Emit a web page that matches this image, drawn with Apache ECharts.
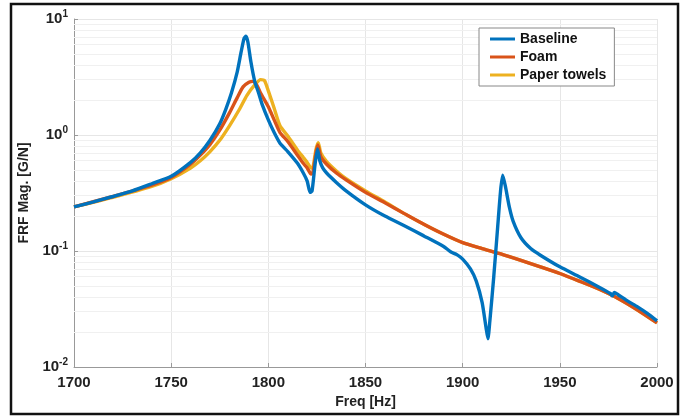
<!DOCTYPE html>
<html>
<head>
<meta charset="utf-8">
<script src="https://cdn.jsdelivr.net/npm/echarts@6/dist/echarts.min.js"></script>
<style>html,body{margin:0;padding:0;background:#fff}#c{width:692px;height:416px}</style>
</head>
<body>
<div id="c"></div>
<script>
var seriesNames = ['Baseline', 'Foam', 'Paper towels'];
var seriesColors = ['#0072BD', '#D95319', '#EDB120'];

var baselineFreq = [1700,1710,1720,1730,1740,1750,1760,1765,1770,1775,1778,1781,1784,1786,1787.5,1788.5,1789.5,1791,1793,1795,1797,1800,1803,1806,1810,1815,1818,1820,1821.5,1822.5,1824,1825.3,1826.5,1828,1830,1835,1840,1850,1860,1870,1880,1890,1894,1897,1900,1904,1907,1910,1912,1913,1914,1916,1918,1919.5,1920.6,1922,1924,1926,1930,1935,1940,1950,1960,1970,1976,1977,1978,1980,1985,1990,1995,2000];
var baselineMag = [0.24,0.265,0.295,0.33,0.38,0.44,0.58,0.7,0.9,1.25,1.65,2.3,3.5,5.2,6.8,7.1,6.3,4.3,2.9,2.3,1.8,1.35,1.05,0.85,0.72,0.57,0.47,0.4,0.32,0.33,0.55,0.76,0.6,0.52,0.47,0.39,0.33,0.25,0.2,0.165,0.135,0.11,0.098,0.093,0.085,0.07,0.055,0.036,0.022,0.0175,0.025,0.06,0.16,0.33,0.45,0.36,0.24,0.18,0.13,0.105,0.092,0.073,0.06,0.049,0.043,0.041,0.044,0.042,0.037,0.033,0.029,0.025];

var foamFreq = [1700,1720,1740,1750,1760,1765,1770,1775,1780,1784,1787,1790,1792,1794,1796,1800,1803,1806,1810,1815,1818,1820,1822,1823,1824.5,1825.5,1827,1830,1835,1840,1850,1860,1870,1880,1890,1900,1910,1920,1930,1940,1950,1960,1970,1980,1990,2000];
var foamMag = [0.24,0.295,0.37,0.43,0.56,0.67,0.83,1.1,1.55,2.1,2.6,2.85,2.9,2.7,2.3,1.75,1.35,1.05,0.88,0.67,0.57,0.52,0.46,0.48,0.7,0.82,0.65,0.56,0.47,0.41,0.32,0.26,0.21,0.17,0.14,0.118,0.105,0.094,0.083,0.073,0.064,0.055,0.047,0.039,0.031,0.024];

var paperFreq = [1700,1720,1740,1750,1760,1765,1770,1775,1780,1785,1789,1793,1796,1798,1800,1803,1806,1810,1815,1818,1820,1822,1823,1824.5,1825.7,1827,1830,1835,1840,1850,1860,1870,1880,1890,1900,1910,1920,1930,1940,1950,1960,1970,1980,1990,2000];
var paperMag = [0.24,0.29,0.36,0.42,0.52,0.6,0.72,0.9,1.2,1.65,2.2,2.7,3.0,2.95,2.4,1.7,1.2,0.98,0.74,0.64,0.58,0.52,0.53,0.75,0.86,0.7,0.59,0.49,0.42,0.33,0.265,0.21,0.17,0.14,0.118,0.105,0.094,0.083,0.073,0.064,0.055,0.047,0.039,0.031,0.024];

var xTicks = [1700, 1750, 1800, 1850, 1900, 1950, 2000];
var yDecades = [0.01, 0.1, 1, 10];
var yMinorLines = [0.02,0.03,0.04,0.05,0.06,0.07,0.08,0.09,0.2,0.3,0.4,0.5,0.6,0.7,0.8,0.9,2,3,4,5,6,7,8,9];

function pairs(f, m) { return f.map(function (v, i) { return [v, m[i]]; }); }
var allData = [pairs(baselineFreq, baselineMag), pairs(foamFreq, foamMag), pairs(paperFreq, paperMag)];

var lineSeries = seriesNames.map(function (n, i) {
  return {
    type: 'line', name: n, data: allData[i], showSymbol: false, symbol: 'none',
    smooth: 0.2,
    lineStyle: { width: 3.4, color: seriesColors[i] }, itemStyle: { color: seriesColors[i] },
    z: 10 - i, animation: false
  };
});
var series = [{
  type: 'line', name: '_minor', data: [], silent: true, z: 1,
  markLine: {
    silent: true, symbol: 'none', label: { show: false },
    lineStyle: { color: '#f0f0f0', type: 'solid', width: 1 },
    animation: false,
    data: yMinorLines.map(function (v) { return { yAxis: v }; })
  }
}, lineSeries[2], lineSeries[1], lineSeries[0]];

var chart = echarts.init(document.getElementById('c'), null, { renderer: 'canvas' });
chart.setOption({
  backgroundColor: '#fff',
  animation: false,
  graphic: [{
    type: 'rect', shape: { x: 11, y: 4, width: 667, height: 410 },
    style: { fill: 'none', stroke: '#111', lineWidth: 2.5 }, z: 100
  }],
  grid: { left: 74, top: 19, right: 35, bottom: 49 },
  legend: {
    data: seriesNames,
    z: 50,
    orient: 'vertical', left: 479, top: 28,
    backgroundColor: '#fff', borderColor: '#888', borderWidth: 1,
    padding: [4, 8, 4, 11], itemGap: 4,
    icon: 'rect', itemWidth: 25, itemHeight: 3,
    textStyle: { fontFamily: 'Liberation Sans', fontWeight: 'bold', fontSize: 14, color: '#111' }
  },
  xAxis: {
    type: 'value', min: 1700, max: 2000, interval: 50,
    name: 'Freq [Hz]', nameLocation: 'middle', nameGap: 27,
    nameTextStyle: { fontFamily: 'Liberation Sans', fontWeight: 'bold', fontSize: 14, color: '#222' },
    axisLine: { show: true, lineStyle: { color: '#999' } },
    axisTick: { show: true, inside: true, length: 4, lineStyle: { color: '#999' } },
    axisLabel: { fontFamily: 'Liberation Sans', fontWeight: 'bold', fontSize: 15, color: '#222', margin: 8,
      formatter: function (v) { return String(v); } },
    splitLine: { show: true, lineStyle: { color: '#e6e6e6' } }
  },
  yAxis: {
    type: 'log', logBase: 10, min: 0.01, max: 10,
    name: 'FRF Mag. [G/N]', nameLocation: 'middle', nameGap: 41,
    nameTextStyle: { fontFamily: 'Liberation Sans', fontWeight: 'bold', fontSize: 14, color: '#222' },
    axisLine: { show: true, lineStyle: { color: '#999' } },
    axisTick: { show: true, inside: true, length: 4, lineStyle: { color: '#999' } },
    axisLabel: {
      margin: 6,
      formatter: function (v) {
        var e = Math.round(Math.log10(v));
        return '{b|10}{s|' + e + '}';
      },
      rich: {
        b: { fontFamily: 'Liberation Sans', fontWeight: 'bold', fontSize: 15, color: '#222' },
        s: { fontFamily: 'Liberation Sans', fontWeight: 'bold', fontSize: 10, color: '#222', padding: [0, 0, 9, 0] }
      }
    },
    splitLine: { show: true, lineStyle: { color: '#e6e6e6' } }
  },
  series: series
});
</script>
</body>
</html>
